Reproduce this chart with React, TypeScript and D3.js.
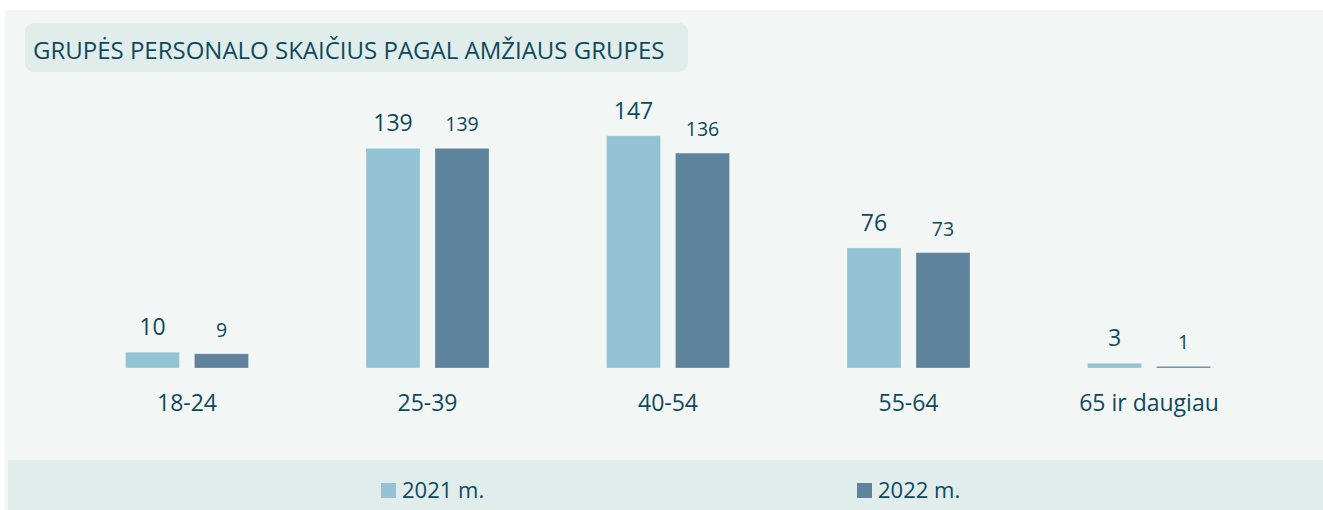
import React from "react";
import * as d3 from "d3";

const categories = ["18-24", "25-39", "40-54", "55-64", "65 ir daugiau"];
const seriesNames = ["2021 m.", "2022 m."];
const values2021 = [10, 139, 147, 76, 3];
const values2022 = [9, 139, 136, 73, 1];
const title = "GRUPĖS PERSONALO SKAIČIUS PAGAL AMŽIAUS GRUPES";

const W = 1323;
const H = 510;
const colors = ["#93c3d4", "#5d849c"];
const textColor = "#0f4a5c";
const font = "'Open Sans', 'Noto Sans', sans-serif";

export default function App() {
  const x0 = d3.scalePoint<string>().domain(categories).range([187, 1149]);
  const x1 = d3.scaleBand<string>().domain(seriesNames).range([-61.5, 61.5]).paddingInner(0.217);
  const y = d3.scaleLinear().domain([0, 160]).range([368, 115.2]);
  const series = [values2021, values2022];

  return (
    <svg width={W} height={H} style={{ position: "absolute", left: 0, top: 0 }} fontFamily={font}>
      <rect x={0} y={0} width={W} height={H} fill="#ffffff" />
      <rect x={5} y={10} width={W - 5} height={H - 10} fill="#f2f6f5" />
      <rect x={25} y={23} width={663} height={49} rx={9} fill="#e1edeb" />
      <text x={33} y={59} fontSize={24} fill={textColor}>{title}</text>

      {categories.map((c, ci) => (
        <g key={c} transform={`translate(${x0(c)},0)`}>
          {series.map((vals, si) => {
            const bx = x1(seriesNames[si]) as number;
            const bw = x1.bandwidth();
            const top = y(vals[ci]);
            return (
              <g key={si}>
                <rect x={bx} y={top} width={bw} height={y(0) - top} fill={colors[si]} stroke="#ffffff" strokeOpacity={0.25} strokeWidth={1} />
                <text
                  x={bx + bw / 2}
                  y={top - 17}
                  textAnchor="middle"
                  fontSize={si === 0 ? 23 : 19.5}
                  fill={textColor}
                >
                  {vals[ci]}
                </text>
              </g>
            );
          })}
          <text x={0} y={411} textAnchor="middle" fontSize={23} fill={textColor}>{c}</text>
        </g>
      ))}

      <rect x={8} y={460} width={W - 8} height={50} fill="#e1edeb" />
      {seriesNames.map((s, i) => {
        const lx = [381, 857][i];
        return (
          <g key={s}>
            <rect x={lx} y={483} width={15} height={15} fill={colors[i]} />
            <text x={lx + 21} y={498} fontSize={22} fill={textColor}>{s}</text>
          </g>
        );
      })}
    </svg>
  );
}
